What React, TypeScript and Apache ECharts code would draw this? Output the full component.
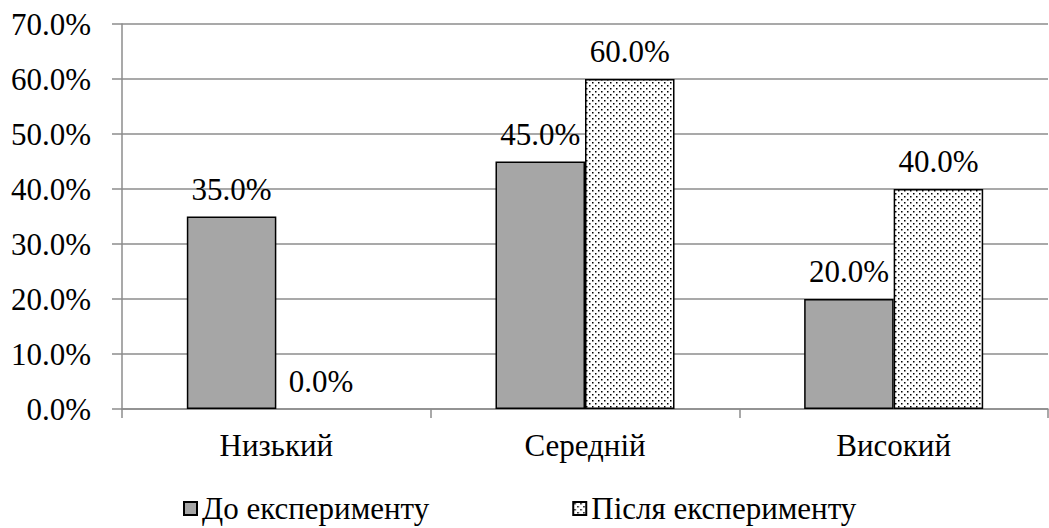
import React, { useEffect, useRef } from "react";
import * as echarts from "echarts";

const categories = ["Низький", "Середній", "Високий"];
const seriesNames = ["До експерименту", "Після експерименту"];
const beforeValues = [35.0, 45.0, 20.0];
const afterValues = [0.0, 60.0, 40.0];

const FONT = "Liberation Serif";
const FS = 31;

function makeDots(): HTMLCanvasElement {
  const c = document.createElement("canvas");
  c.width = 6;
  c.height = 6;
  const ctx = c.getContext("2d")!;
  ctx.fillStyle = "#ffffff";
  ctx.fillRect(0, 0, 6, 6);
  ctx.fillStyle = "#000000";
  ctx.fillRect(1, 1, 1.5, 1.5);
  ctx.fillRect(4, 4, 1.5, 1.5);
  return c;
}

const toItems = (arr: number[]) =>
  arr.map((v) => (v === 0 ? { value: v, itemStyle: { borderWidth: 0 } } : { value: v }));

export default function App() {
  const ref = useRef<HTMLDivElement>(null);
  useEffect(() => {
    if (!ref.current) return;
    const chart = echarts.init(ref.current, undefined, { renderer: "svg" });
    const pattern = { image: makeDots(), repeat: "repeat" } as any;
    const label = {
      show: true,
      position: "top",
      distance: 12,
      fontFamily: FONT,
      fontSize: FS,
      color: "#000",
      formatter: (p: any) => Number(p.value).toFixed(1) + "%",
    };
    chart.setOption({
      animation: false,
      backgroundColor: "#fff",
      textStyle: { fontFamily: FONT },
      grid: { left: 122, right: 1, top: 24, bottom: 119, containLabel: false },
      legend: {
        top: 488,
        left: 178,
        itemWidth: 13,
        itemHeight: 13,
        itemGap: 143,
        icon: "rect",
        textStyle: { fontFamily: FONT, fontSize: FS, color: "#000" },
        data: seriesNames,
      },
      xAxis: {
        type: "category",
        data: categories,
        axisLine: { lineStyle: { color: "#8c8c8c", width: 1.5 } },
        axisTick: { show: true, length: 9, lineStyle: { color: "#8c8c8c", width: 1.5 } },
        axisLabel: { fontFamily: FONT, fontSize: FS, color: "#000", margin: 21 },
      },
      yAxis: {
        type: "value",
        min: 0,
        max: 70,
        interval: 10,
        axisLine: { show: true, lineStyle: { color: "#8c8c8c", width: 1.5 } },
        axisTick: { show: true, length: 10, lineStyle: { color: "#8c8c8c", width: 1.5 } },
        splitLine: { lineStyle: { color: "#8c8c8c", width: 1.5 } },
        axisLabel: {
          fontFamily: FONT,
          fontSize: FS,
          color: "#000",
          margin: 31,
          formatter: (v: number) => v.toFixed(1) + "%",
        },
      },
      series: [
        {
          name: seriesNames[0],
          type: "bar",
          data: toItems(beforeValues),
          barGap: "0%",
          barCategoryGap: "42%",
          itemStyle: { color: "#a6a6a6", borderColor: "#000", borderWidth: 1.5 },
          label,
        },
        {
          name: seriesNames[1],
          type: "bar",
          data: toItems(afterValues),
          barGap: "0%",
          barCategoryGap: "42%",
          itemStyle: { color: pattern, borderColor: "#000", borderWidth: 1.5 },
          label,
        },
      ],
    });
    return () => chart.dispose();
  }, []);
  return <div ref={ref} style={{ width: 1049, height: 528, position: "absolute", left: 0, top: 0 }} />;
}
